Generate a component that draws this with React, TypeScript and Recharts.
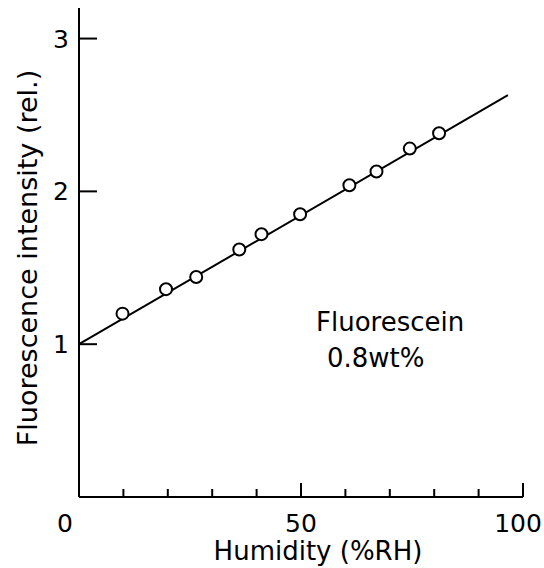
import React from "react";
import {
  ComposedChart,
  Line,
  Scatter,
  XAxis,
  YAxis,
  Label,
} from "recharts";

// measured points (humidity %RH, relative intensity)
const humidity = [9.8, 19.6, 26.4, 36.1, 41.1, 49.8, 60.9, 67.0, 74.5, 81.1];
const intensity = [1.2, 1.36, 1.44, 1.62, 1.72, 1.85, 2.04, 2.13, 2.28, 2.38];

// straight-line fit drawn through the points
const fitX = [0, 96.6];
const fitY = [1.0, 2.63];

const xTicks = [0, 10, 20, 30, 40, 50, 60, 70, 80, 90, 100];
const yTicks = [0, 1, 2, 3];

const points = humidity.map((h, i) => ({ x: h, y: intensity[i] }));
const fitLine = fitX.map((x, i) => ({ x, y: fitY[i] }));

const FONT = "'DejaVu Sans', sans-serif";

const XTick = (props: any) => {
  const { x, y, payload } = props;
  const v = payload.value;
  const major = v % 50 === 0;
  const len = v === 0 ? 0 : major ? 14 : 8;
  const dx = v === 0 ? -14 : v === 100 ? -5 : 0;
  return (
    <g>
      {len > 0 && (
        <line x1={x} x2={x} y1={y} y2={y - len} stroke="#000" strokeWidth={2} />
      )}
      {major && (
        <text
          x={x + dx}
          y={y + 35}
          textAnchor="middle"
          fontSize={25}
          fontFamily={FONT}
          fill="#000"
        >
          {v}
        </text>
      )}
    </g>
  );
};

const YTick = (props: any) => {
  const { x, y, payload } = props;
  const v = payload.value;
  if (v === 0) return <g />;
  return (
    <g>
      <line x1={x} x2={x + 18} y1={y} y2={y} stroke="#000" strokeWidth={2} />
      <text
        x={x - 10}
        y={y + 9}
        textAnchor="end"
        fontSize={25}
        fontFamily={FONT}
        fill="#000"
      >
        {v}
      </text>
    </g>
  );
};

const Dot = (props: any) => {
  const { cx, cy } = props;
  return <circle cx={cx} cy={cy} r={6} fill="#fff" stroke="#000" strokeWidth={2} />;
};

const App = () => {
  return (
    <div
      style={{
        position: "absolute",
        left: 0,
        top: 0,
        width: 544,
        height: 568,
        background: "#fff",
      }}
    >
      <ComposedChart
        width={544}
        height={568}
        margin={{ top: 8, right: 21, bottom: 0, left: 0 }}
      >
        <XAxis
          dataKey="x"
          type="number"
          domain={[0, 100]}
          ticks={xTicks}
          interval={0}
          height={71}
          tickSize={0}
          tickMargin={0}
          tickLine={false}
          tick={<XTick />}
          axisLine={{ stroke: "#000", strokeWidth: 2 }}
        >
          <Label
            content={(p: any) => (
              <text
                x={p.viewBox.x + p.viewBox.width / 2 + 17}
                y={p.viewBox.y + 63}
                textAnchor="middle"
                fontSize={26}
                fontFamily={FONT}
                fill="#000"
              >
                Humidity (%RH)
              </text>
            )}
          />
        </XAxis>
        <YAxis
          type="number"
          domain={[0, 3.2]}
          ticks={yTicks}
          interval={0}
          width={79}
          tickSize={0}
          tickMargin={0}
          tickLine={false}
          tick={<YTick />}
          axisLine={{ stroke: "#000", strokeWidth: 2 }}
        >
          <Label
            content={() => (
              <text
                x={37}
                y={258}
                transform="rotate(-90 37 258)"
                textAnchor="middle"
                fontSize={27}
                fontFamily={FONT}
                fill="#000"
              >
                Fluorescence intensity (rel.)
              </text>
            )}
          />
        </YAxis>
        <Line
          data={fitLine}
          dataKey="y"
          type="linear"
          stroke="#000"
          strokeWidth={2}
          dot={false}
          activeDot={false}
          isAnimationActive={false}
        />
        <Scatter
          data={points}
          dataKey="y"
          shape={<Dot />}
          isAnimationActive={false}
        />
      </ComposedChart>
      <div
        style={{
          position: "absolute",
          left: 316,
          top: 304,
          fontFamily: FONT,
          fontSize: 26,
          lineHeight: "36px",
          color: "#000",
          whiteSpace: "pre",
        }}
      >
        <div>Fluorescein</div>
        <div style={{ paddingLeft: 11 }}>0.8wt%</div>
      </div>
    </div>
  );
};

export default App;
